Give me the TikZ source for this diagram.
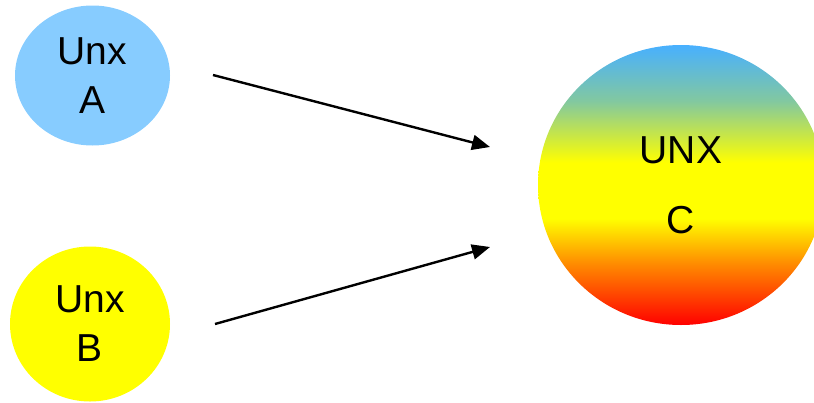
\documentclass[tikz,border=0pt]{standalone}
\usepackage{fontspec}
\setmainfont{Liberation Sans}
\usepackage{xcolor}
\usetikzlibrary{positioning,arrows.meta,shapes.geometric}
\definecolor{unxblue}{RGB}{135,204,255}
\definecolor{unxyellow}{RGB}{255,255,0}
\definecolor{topblue}{RGB}{72,176,255}
\definecolor{midteal}{RGB}{130,200,160}
\definecolor{deeporange}{RGB}{255,140,0}
\definecolor{bottomred}{RGB}{255,0,0}
\pgfdeclareverticalshading{unxshade}{100bp}{color(0bp)=(bottomred); color(25bp)=(bottomred); color(36bp)=(deeporange); color(44bp)=(unxyellow); color(54bp)=(unxyellow); color(65bp)=(midteal); color(75bp)=(topblue); color(100bp)=(topblue)}

\begin{document}
\begin{tikzpicture}[
  x=1pt, y=-1pt,
  every node/.style={font=\fontsize{39}{49}\selectfont},
  unx/.style={ellipse, inner sep=0pt, align=center, draw=none}
]
\useasboundingbox (0,0) rectangle (814,402);

% Sources
\node[unx, fill=unxblue, minimum width=155pt, minimum height=140pt] (unxA) at (92.5,75.5) {Unx\\A};
\node[unx, fill=unxyellow, minimum width=160pt, minimum height=155pt] (unxB) at (90,324) {Unx\\B};

% Target
\node[unx, shading=unxshade, minimum width=286pt, minimum height=280pt] (unxC) at (681,185) {UNX\\[21pt]C};

% Arrows
\coordinate (fromA) at (213,75);
\coordinate (toA) at (490,147);
\coordinate (fromB) at (215,324);
\coordinate (toB) at (490,247);
\draw[-{Triangle[length=18pt,width=15pt]}, line width=2.4pt] (fromA) -- (toA);
\draw[-{Triangle[length=18pt,width=15pt]}, line width=2.4pt] (fromB) -- (toB);

\end{tikzpicture}
\end{document}
